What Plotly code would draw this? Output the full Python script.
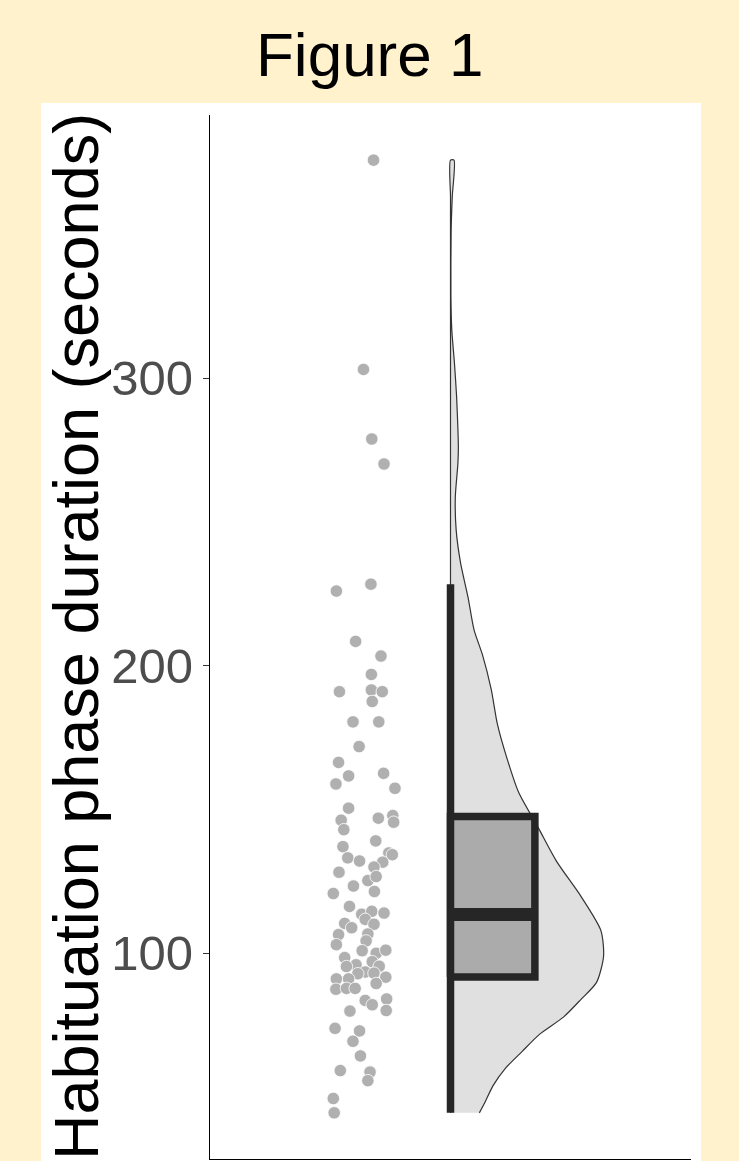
import plotly.graph_objects as go

# ---------------- data ----------------
point_values = [375.8, 303.0, 278.8, 270.1, 225.9, 228.3,
                208.4, 203.3, 196.9, 190.9, 191.5, 190.9, 187.5, 180.4, 180.4, 171.8,
                166.3, 161.6, 158.8, 162.5, 157.3, 150.4, 146.2, 142.9, 146.9, 147.8,
                145.5, 137.0, 139.0, 133.1, 132.0, 134.8, 134.2, 131.6, 129.9, 128.1,
                125.2, 126.6, 123.3, 120.7, 121.4, 116.2, 113.5, 114.5, 113.9, 111.7,
                110.0, 110.3, 108.8, 106.4, 106.6, 104.2, 102.9, 100.8, 99.9, 101.0,
                98.4, 97.0, 95.9, 95.4, 95.3, 93.4, 92.8, 93.0, 91.0, 91.0,
                91.6, 89.4, 87.4, 87.7, 87.7, 83.5, 82.0, 84.0, 80.0, 79.8,
                73.8, 72.9, 69.3, 64.2, 59.1, 58.6, 55.6, 49.4, 44.4]
point_jitter = [0.024, 0.001, 0.020, 0.048, -0.061, 0.018,
                -0.017, 0.041, 0.019, -0.054, 0.019, 0.044, 0.021, -0.023, 0.036, -0.009,
                -0.056, -0.033, -0.062, 0.047, 0.073, -0.033, -0.050, -0.044, 0.035, 0.068,
                0.070, -0.046, 0.029, -0.035, -0.008, 0.059, 0.067, 0.045, 0.025, -0.055,
                0.011, 0.030, -0.022, -0.068, 0.026, -0.031, -0.003, 0.020, 0.048, 0.005,
                0.025, -0.042, -0.026, -0.056, 0.011, 0.007, -0.061, -0.002, 0.030, 0.052,
                -0.042, 0.021, -0.016, 0.037, -0.038, 0.005, -0.012, 0.025, -0.061, -0.033,
                0.052, 0.030, -0.062, -0.038, -0.018, 0.005, 0.021, 0.054, 0.053, -0.030,
                -0.064, -0.008, -0.023, -0.006, -0.052, 0.016, 0.011, -0.068, -0.066]

density_values = [44.4, 47.8, 53.8, 59.8, 65.8, 71.8, 77.8, 83.8, 89.8, 98.8, 107.8,
                  119.8, 131.8, 143.8, 155.8, 167.8, 179.8, 191.8, 203.8, 212.3, 223.8,
                  235.7, 247.1, 258.6, 270.4, 276.0, 281.9, 293.4, 305.2, 316.7, 328.2,
                  351.5, 363.0, 375.8]
density_widths = [0.066, 0.078, 0.097, 0.125, 0.164, 0.204, 0.259, 0.298, 0.334, 0.350, 0.344,
                  0.298, 0.243, 0.200, 0.156, 0.129, 0.107, 0.093, 0.073, 0.054, 0.040,
                  0.023, 0.013, 0.011, 0.017, 0.018, 0.017, 0.014, 0.009, 0.003, 0.001,
                  0.0015, 0.004, 0.008]

box_q1, box_median, box_q3 = 91.7, 113.4, 147.5
whisker_low, whisker_high = 44.4, 228.3

y_ticks = [100, 200, 300]
title_text = "Figure 1"
y_title = "Habituation phase duration (seconds)"

# ---------------- positions ----------------
POINT_X = 0.8
BASE_X = 1.0
BOX_RIGHT = 1.193
FONT = "Liberation Sans, Arial, sans-serif"

fig = go.Figure()

# white panel behind the plot
fig.add_shape(type="rect", xref="paper", yref="paper", x0=-0.3514, x1=1.0208,
              y0=-0.01, y1=1.0115, fillcolor="white", line_width=0, layer="below")

# half violin: outer curve bottom->top, then straight base top->bottom
vx = [BASE_X + w for w in density_widths] + [BASE_X] * len(density_values)
vy = list(density_values) + list(reversed(density_values))
fig.add_trace(go.Scatter(x=vx, y=vy, mode="lines", fill="toself",
                         fillcolor="#E0E0E0",
                         line=dict(color="#333333", width=1.2, shape="spline", smoothing=0.7),
                         hoverinfo="skip", showlegend=False))

# jittered points
fig.add_trace(go.Scatter(x=[POINT_X + j for j in point_jitter], y=point_values,
                         mode="markers",
                         marker=dict(size=12.5, color="#B0B0B0",
                                     line=dict(color="white", width=0.8)),
                         hoverinfo="skip", showlegend=False))

# whisker (along left edge of the box)
fig.add_trace(go.Scatter(x=[BASE_X, BASE_X], y=[whisker_low, whisker_high], mode="lines",
                         line=dict(color="#262626", width=7.5),
                         hoverinfo="skip", showlegend=False))

# box
fig.add_trace(go.Scatter(x=[BASE_X, BOX_RIGHT, BOX_RIGHT, BASE_X, BASE_X],
                         y=[box_q1, box_q1, box_q3, box_q3, box_q1],
                         mode="lines", fill="toself", fillcolor="#ABABAB",
                         line=dict(color="#262626", width=7.5),
                         hoverinfo="skip", showlegend=False))

# median
fig.add_trace(go.Scatter(x=[BASE_X, BOX_RIGHT], y=[box_median, box_median], mode="lines",
                         line=dict(color="#262626", width=13),
                         hoverinfo="skip", showlegend=False))

fig.update_layout(
    width=739, height=1161,
    margin=dict(l=210, r=48, t=115, b=2, autoexpand=False),
    paper_bgcolor="#FFF2CC",
    plot_bgcolor="white",
    showlegend=False,
    xaxis=dict(range=[0.45, 1.55], showgrid=False, zeroline=False, showticklabels=False,
               ticks="", showline=True, linecolor="black", linewidth=1.3, fixedrange=True),
    yaxis=dict(range=[28.35, 391.5], tickvals=y_ticks, ticktext=[str(t) for t in y_ticks],
               showgrid=False, zeroline=False, showline=True, linecolor="black",
               linewidth=1.3, ticks="outside", ticklen=6, tickcolor="#333333",
               tickwidth=1.3,
               tickfont=dict(family=FONT, size=49, color="#4D4D4D"), fixedrange=True),
    annotations=[
        dict(text=title_text, xref="paper", yref="paper", x=(369.5 - 210) / 481,
             y=1 + (115 - 55) / 1044, xanchor="center", yanchor="middle",
             showarrow=False, font=dict(family=FONT, size=62, color="black")),
        dict(text=y_title, xref="paper", yref="paper", x=(76 - 210) / 481, y=0.5,
             xanchor="center", yanchor="middle", textangle=-90, showarrow=False,
             font=dict(family=FONT, size=63, color="black")),
    ],
)

fig.write_html("out.html", post_script="document.body.style.margin='0';",
               config={"displayModeBar": False})
